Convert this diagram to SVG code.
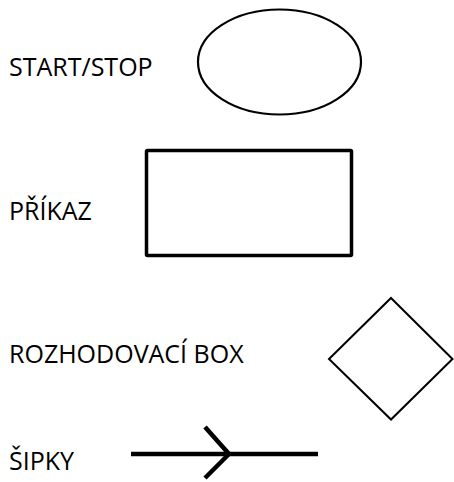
<svg xmlns="http://www.w3.org/2000/svg" width="454" height="482" viewBox="0 0 454 482">
<style>
.lbl{font-family:"Open Sans","Liberation Sans",Arial,sans-serif;font-size:25px;fill:#000}
.shape{fill:#fff;stroke:#000}
</style>
<rect width="454" height="482" fill="#fff"/>
<g id="start-stop">
<text class="lbl" x="9" y="76">START/STOP</text>
<ellipse class="shape" cx="279.5" cy="62" rx="81.5" ry="52.5" stroke-width="2.2"/>
</g>
<g id="prikaz">
<text class="lbl" x="9" y="220">PŘÍKAZ</text>
<rect class="shape" x="146.5" y="150.5" width="205" height="105" stroke-width="3.5" rx="1"/>
</g>
<g id="rozhodovaci-box">
<text class="lbl" x="9" y="363">ROZHODOVACÍ BOX</text>
<polygon class="shape" points="391,298 452.5,359 391,419.5 329,359" stroke-width="2"/>
</g>
<g id="sipky">
<text class="lbl" x="9" y="470">ŠIPKY</text>
</g>
<g id="connectors">
<line x1="131" y1="454" x2="318" y2="454" stroke="#000" stroke-width="4.5"/>
<polyline points="205,427 229,454 205,478" fill="none" stroke="#000" stroke-width="4.5"/>
</g>
</svg>
